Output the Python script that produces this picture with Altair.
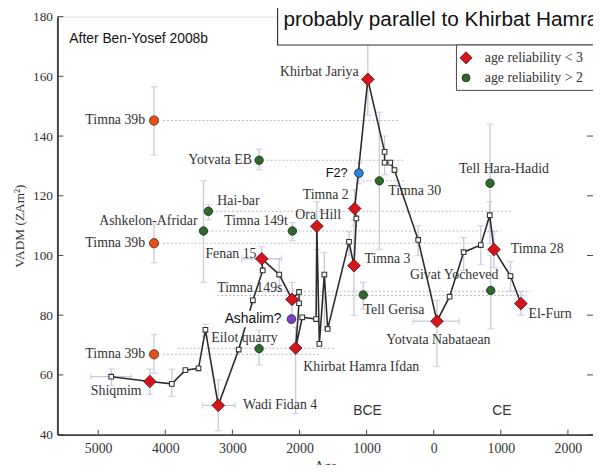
import altair as alt
import pandas as pd

# ---------------- data ----------------
x_ticks = [-5000, -4000, -3000, -2000, -1000, 0, 1000, 2000]
y_ticks = [40, 60, 80, 100, 120, 140, 160, 180]

# black curve (ordered), kind: s = open square, r = red diamond vertex
path_year = [-4806, -4231, -3903, -3701, -3505, -3402, -3211, -2906, -2695, -2548,
             -2563, -2302, -2111, -2007, -2007, -2057, -1959, -1753, -1742, -1704,
             -1630, -1580, -1262, -1188, -1153, -1178, -982, -732, -732, -648,
             -585, -231, 49, 236, 446, 702, 835, 898, 1144, 1300]
path_vadm = [59.4, 57.8, 57.0, 61.6, 62.2, 75.1, 49.8, 68.5, 85.0, 95.0,
             98.9, 93.6, 85.3, 87.8, 84.0, 69.0, 79.3, 78.7, 109.8, 70.4,
             93.6, 75.4, 104.6, 96.6, 112.4, 115.7, 159.0, 134.7, 131.1, 131.1,
             128.6, 105.2, 78.0, 86.2, 101.1, 103.5, 113.5, 102.0, 93.1, 83.9]
path_kind = ["s", "r", "s", "s", "s", "s", "r", "s", "s", "s",
             "r", "s", "r", "s", "s", "r", "s", "s", "r", "s",
             "s", "s", "s", "r", "s", "r", "r", "s", "s", "s",
             "s", "s", "r", "s", "s", "s", "s", "r", "s", "r"]

# error bars of some curve squares
sq_err_year = [-4806, -3903, -3402, -2302, -1630, -1262, -732, -231, 446, 702, 835, 1144]
sq_err_lo = [56.5, 52.8, 73.0, 88.0, 75.0, 100.0, 127.0, 100.0, 95.0, 97.0, 108.0, 88.0]
sq_err_hi = [62.0, 61.9, 77.0, 99.0, 101.0, 108.0, 140.0, 110.0, 106.0, 110.0, 118.0, 98.0]

# red diamonds: age reliability < 3
red_name = ["Khirbat Jariya", "Timna 2", "Ora Hill", "Timna 3", "Fenan 15", "Timna 149s",
            "Khirbat Hamra Ifdan", "Shiqmim", "Wadi Fidan 4", "Yotvata Nabataean",
            "Timna 28", "El-Furn"]
red_year = [-982, -1178, -1742, -1188, -2563, -2111, -2057, -4231, -3211, 49, 898, 1300]
red_vadm = [159.0, 115.7, 109.8, 96.6, 98.9, 85.3, 69.0, 57.8, 49.8, 78.0, 102.0, 83.9]
red_lo = [147.0, 110.0, 102.0, 80.0, 95.0, 80.0, 47.0, 53.5, 41.3, 62.8, 96.0, 80.0]
red_hi = [170.4, 122.0, 118.0, 112.0, 103.0, 91.0, 76.0, 62.0, 58.3, 85.0, 108.0, 88.0]

# green circles: age reliability > 2
green_name = ["Yotvata EB", "Hai-bar", "Ashkelon-Afridar", "Timna 149t", "Eilot quarry",
              "Tell Gerisa", "", "Tell Hara-Hadid", ""]
green_year = [-2602, -3358, -3431, -2106, -2602, -1050, -810, 839, 850]
green_vadm = [131.9, 114.8, 108.2, 108.2, 68.8, 86.8, 125.0, 124.2, 88.3]
green_lo = [128.7, 112.0, 91.0, 105.0, 63.3, 82.0, 102.0, 104.0, 75.4]
green_hi = [135.6, 117.0, 125.0, 111.0, 75.0, 91.0, 148.0, 144.0, 100.0]

# orange circles (Timna 39b)
orange_year = [-4168, -4168, -4168]
orange_vadm = [145.2, 104.1, 66.9]
orange_lo = [133.7, 97.6, 60.5]
orange_hi = [156.5, 110.5, 73.5]

# horizontal age error bars
hbar_vadm = [49.8, 59.4, 78.0, 98.9]
hbar_x0 = [-3446, -5110, -309, -2860]
hbar_x1 = [-2960, -4507, 383, -2270]

# dotted horizontal reference lines
dot_vadm = [145.2, 131.9, 125.0, 114.8, 108.2, 104.1, 98.9, 88.0, 86.6, 68.9, 66.9]
dot_x0 = [-4035, -2489, -1060, -3299, -3431, -4035, -2857, -2700, -3225, -3814, -4035]
dot_x1 = [-501, -427, -427, 1163, 1001, 640, -2268, 1443, 1384, -1458, -1700]

# text labels: anchor (year, vadm) and alignment
lab_text = ["Timna 39b", "Timna 39b", "Timna 39b", "Yotvata EB", "Hai-bar", "Ashkelon-Afridar",
            "Timna 149t", "Khirbat Jariya", "Timna 2", "Ora Hill", "Timna 30", "Tell Hara-Hadid",
            "Fenan 15", "Timna 149s", "Eilot quarry", "Tell Gerisa", "Timna 3", "Givat Yocheved",
            "Timna 28", "El-Furn", "Yotvata Nabataean", "Khirbat Hamra Ifdan", "Shiqmim",
            "Wadi Fidan 4"]
lab_year = [-4300, -4300, -4300, -2710, -3225, -3520, -3122, -1119, -1267, -2062, -677, 1046,
            -3402, -3225, -3314, -1046, -1031, -353, 1149, 1414, -707, -1944, -5110, -2842]
lab_vadm = [145.2, 104.2, 67.1, 132.0, 118.1, 111.5, 111.5, 161.5, 120.1, 113.5, 121.7, 129.0,
            100.6, 89.0, 72.4, 81.7, 98.9, 93.6, 102.2, 80.4, 71.8, 62.8, 54.6, 49.9]
lab_align = ["right", "right", "right", "right", "left", "right", "left", "right", "right", "left",
             "left", "center", "left", "left", "left", "left", "left", "left", "left", "left",
             "left", "left", "left", "left"]

# special added points
f2 = dict(x=-1115, y=127.6, lo=124.0, hi=131.0, text="F2?", tx=-1281)
ashalim = dict(x=-2120, y=78.7, text="Ashalim?", tx=-2268, bx0=-3152, bx1=-2150, by0=76.0, by1=81.5)

# ---------------- scales & axes ----------------
XD = [-5608, 2374]
YD = [40, 180]
xs = alt.Scale(domain=XD, nice=False, zero=False)
ys = alt.Scale(domain=YD, nice=False, zero=False)
SERIF = "Liberation Serif"
SANS = "Liberation Sans"
W, H = 542, 423

XA = alt.Axis(values=x_ticks, labelExpr="abs(datum.value)", ticks=False, grid=False,
              labelFont=SERIF, labelFontSize=14, labelColor="#333", labelPadding=7,
              domainColor="#444", domainWidth=2, title="Age", titleFont=SERIF,
              titleFontSize=14, titleFontWeight="normal", titleColor="#333", titlePadding=4)
YA = alt.Axis(values=y_ticks, ticks=False, grid=False, labelFont=SERIF, labelFontSize=13.5,
              labelColor="#333", labelPadding=5, domainColor="#444", domainWidth=2,
              title="VADM (ZAm²)", titleFont=SERIF, titleFontSize=13.5, titleFontWeight="normal",
              titleColor="#333", titlePadding=6)


def X(f="x"):
    return alt.X(f + ":Q", scale=xs, axis=XA)


def Y(f="y"):
    return alt.Y(f + ":Q", scale=ys, axis=YA)


ERR = "#c6c9df"
DOT = "#b9b9c2"

# dotted lines
dots = pd.DataFrame({"x": dot_x0, "x2": dot_x1, "y": dot_vadm})
dot_layer = alt.Chart(dots).mark_rule(color=DOT, strokeDash=[2, 2], strokeWidth=1).encode(
    x=X(), x2="x2:Q", y=Y())

# inward ticks
tx_len = (YD[1] - YD[0]) * 5 / H
ty_len = (XD[1] - XD[0]) * 6 / W
xt = pd.DataFrame({"x": x_ticks, "y": [YD[0]] * len(x_ticks), "y2": [YD[0] + tx_len] * len(x_ticks)})
yt_l = pd.DataFrame({"y": y_ticks, "x": [XD[0]] * len(y_ticks), "x2": [XD[0] + ty_len] * len(y_ticks)})
yt_r = pd.DataFrame({"y": y_ticks, "x": [XD[1] - ty_len] * len(y_ticks), "x2": [XD[1]] * len(y_ticks)})
tick_x = alt.Chart(xt).mark_rule(color="#444", strokeWidth=1).encode(x=X(), y=Y(), y2="y2:Q")
tick_yl = alt.Chart(yt_l).mark_rule(color="#444", strokeWidth=1).encode(x=X(), x2="x2:Q", y=Y())
tick_yr = alt.Chart(yt_r).mark_rule(color="#444", strokeWidth=1).encode(x=X(), x2="x2:Q", y=Y())

# vertical error bars (all groups)
ev = pd.DataFrame({
    "x": sq_err_year + red_year + green_year + orange_year + [f2["x"]],
    "lo": sq_err_lo + red_lo + green_lo + orange_lo + [f2["lo"]],
    "hi": sq_err_hi + red_hi + green_hi + orange_hi + [f2["hi"]],
})
err_rule = alt.Chart(ev).mark_rule(color=ERR, strokeWidth=1.3).encode(x=X(), y=Y("lo"), y2="hi:Q")
cap_lo = alt.Chart(ev).mark_tick(color=ERR, orient="horizontal", size=7, thickness=1.3).encode(x=X(), y=Y("lo"))
cap_hi = alt.Chart(ev).mark_tick(color=ERR, orient="horizontal", size=7, thickness=1.3).encode(x=X(), y=Y("hi"))

eh = pd.DataFrame({"x": hbar_x0, "x2": hbar_x1, "y": hbar_vadm})
herr = alt.Chart(eh).mark_rule(color=ERR, strokeWidth=1.3).encode(x=X(), x2="x2:Q", y=Y())
hcap0 = alt.Chart(eh).mark_tick(color=ERR, orient="vertical", size=7, thickness=1.3).encode(x=X(), y=Y())
hcap1 = alt.Chart(eh).mark_tick(color=ERR, orient="vertical", size=7, thickness=1.3).encode(x=X("x2"), y=Y())

# curve
pdf = pd.DataFrame({"x": path_year, "y": path_vadm, "k": path_kind, "i": list(range(len(path_year)))})
curve = alt.Chart(pdf).mark_line(color="#2b2b2b", strokeWidth=1.6).encode(
    x=X(), y=Y(), order="i:Q")
squares = alt.Chart(pdf).transform_filter("datum.k == 's'").mark_point(
    shape="square", filled=True, fill="white", stroke="#333", strokeWidth=1.1, size=22, opacity=1
).encode(x=X(), y=Y())

# points
rdf = pd.DataFrame({"x": red_year, "y": red_vadm})
reds = alt.Chart(rdf).mark_point(shape="diamond", filled=True, fill="#d3151c", stroke="#5a0a0a",
                                 strokeWidth=0.8, size=165, opacity=1).encode(x=X(), y=Y())
gdf = pd.DataFrame({"x": green_year, "y": green_vadm})
greens = alt.Chart(gdf).mark_point(shape="circle", filled=True, fill="#2f6a2c", stroke="#122d10",
                                   strokeWidth=0.8, size=72, opacity=1).encode(x=X(), y=Y())
odf = pd.DataFrame({"x": orange_year, "y": orange_vadm})
oranges = alt.Chart(odf).mark_point(shape="circle", filled=True, fill="#e0521b", stroke="#6b1e05",
                                    strokeWidth=0.8, size=88, opacity=1).encode(x=X(), y=Y())
bdf = pd.DataFrame({"x": [f2["x"]], "y": [f2["y"]]})
blue = alt.Chart(bdf).mark_point(shape="circle", filled=True, fill="#2a85d8", stroke="#0b2d52",
                                 strokeWidth=0.8, size=78, opacity=1).encode(x=X(), y=Y())

# labels
ldf = pd.DataFrame({"x": lab_year, "y": lab_vadm, "t": lab_text, "a": lab_align})
labels = []
for al in ["left", "right", "center"]:
    labels.append(alt.Chart(ldf).transform_filter(f"datum.a == '{al}'").mark_text(
        align=al, baseline="middle", font=SERIF, fontSize=14, color="#333"
    ).encode(x=X(), y=Y(), text="t:N"))

f2_text = alt.Chart(pd.DataFrame({"x": [f2["tx"]], "y": [f2["y"]], "t": [f2["text"]]})).mark_text(
    align="right", baseline="middle", font=SANS, fontSize=13, color="#111").encode(x=X(), y=Y(), text="t:N")

ash_box = alt.Chart(pd.DataFrame({"x": [ashalim["bx0"]], "x2": [ashalim["bx1"]],
                                  "y": [ashalim["by0"]], "y2": [ashalim["by1"]]})).mark_rect(
    color="white", opacity=1).encode(x=X(), x2="x2:Q", y=Y(), y2="y2:Q")
ash_text = alt.Chart(pd.DataFrame({"x": [ashalim["tx"]], "y": [ashalim["y"]], "t": [ashalim["text"]]})).mark_text(
    align="right", baseline="middle", font=SANS, fontSize=14, color="#111").encode(x=X(), y=Y(), text="t:N")
purple = alt.Chart(pd.DataFrame({"x": [ashalim["x"]], "y": [ashalim["y"]]})).mark_point(
    shape="circle", filled=True, fill="#7a43c4", stroke="#2d1050", strokeWidth=0.8, size=78, opacity=1
).encode(x=X(), y=Y())

# plain annotations
ann = pd.DataFrame({"x": [-5430, -987, 1016], "y": [172.4, 47.9, 47.9],
                    "t": ["After Ben-Yosef 2008b", "BCE", "CE"], "a": ["left", "center", "center"]})
ann_left = alt.Chart(ann).transform_filter("datum.a == 'left'").mark_text(
    align="left", baseline="middle", font=SANS, fontSize=14, color="#111").encode(x=X(), y=Y(), text="t:N")
ann_center = alt.Chart(ann).transform_filter("datum.a == 'center'").mark_text(
    align="center", baseline="middle", font=SANS, fontSize=14, color="#333").encode(x=X(), y=Y(), text="t:N")

# top note box
note_box = alt.Chart(pd.DataFrame({"x": [-2327], "x2": [2480], "y": [170.5], "y2": [195.0]})).mark_rect(
    fill="white", stroke="#333", strokeWidth=1.2, opacity=1).encode(x=X(), x2="x2:Q", y=Y(), y2="y2:Q")
note_text = alt.Chart(pd.DataFrame({"x": [-2239], "y": [179.0], "t": ["probably parallel to Khirbat Hamra Ifdan"]})).mark_text(
    align="left", baseline="middle", font=SANS, fontSize=21, color="#111").encode(x=X(), y=Y(), text="t:N")

# legend
leg_box = alt.Chart(pd.DataFrame({"x": [339], "x2": [2480], "y": [155.3], "y2": [170.5]})).mark_rect(
    fill="white", stroke="#444", strokeWidth=1, opacity=1).encode(x=X(), x2="x2:Q", y=Y(), y2="y2:Q")
leg_red = alt.Chart(pd.DataFrame({"x": [482], "y": [166.2]})).mark_point(
    shape="diamond", filled=True, fill="#d3151c", stroke="#5a0a0a", strokeWidth=0.8, size=150, opacity=1
).encode(x=X(), y=Y())
leg_green = alt.Chart(pd.DataFrame({"x": [482], "y": [159.5]})).mark_point(
    shape="circle", filled=True, fill="#2f6a2c", stroke="#122d10", strokeWidth=0.8, size=64, opacity=1
).encode(x=X(), y=Y())
leg_text = alt.Chart(pd.DataFrame({"x": [761, 761], "y": [166.2, 159.5],
                                   "t": ["age reliability < 3", "age reliability > 2"]})).mark_text(
    align="left", baseline="middle", font=SERIF, fontSize=14, color="#333").encode(x=X(), y=Y(), text="t:N")

chart = alt.layer(
    dot_layer, tick_x, tick_yl, tick_yr,
    err_rule, cap_lo, cap_hi, herr, hcap0, hcap1,
    curve, squares, reds, greens, oranges, blue,
    *labels, f2_text, ash_box, ash_text, purple,
    ann_left, ann_center,
    note_box, note_text, leg_box, leg_red, leg_green, leg_text,
).properties(
    width=W, height=H,
    autosize=alt.AutoSizeParams(type="none"),
    padding={"left": 50, "top": 6, "right": 0, "bottom": 28},
).configure_view(stroke="#444", strokeWidth=1.5).configure(background="white")

chart.save("out.html", embed_options={"renderer": "svg", "actions": False})
